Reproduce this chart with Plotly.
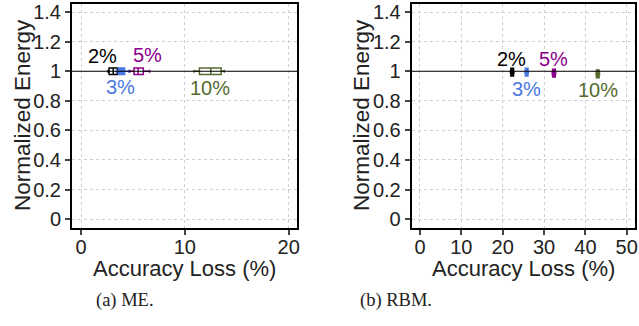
import plotly.graph_objects as go

# ---------------- data ----------------
levels = ["2%", "3%", "5%", "10%"]
colors = ["#000000", "#4a78e0", "#8b008b", "#556b2f"]
fills = ["#ffffff", "#4a78e0", "#ffffff", "#ffffff"]

# ME panel (accuracy loss box stats, %)
me_lower = [2.6, 3.4, 4.7, 10.9]
me_q1 = [2.7, 3.6, 5.1, 11.4]
me_median = [3.1, 3.9, 5.5, 12.5]
me_q3 = [3.5, 4.2, 6.0, 13.5]
me_upper = [3.7, 4.6, 6.6, 13.8]
me_energy = [1.0, 1.0, 1.0, 1.0]
me_label_x = [2.1, 3.8, 6.4, 12.4]
me_label_y = [1.10, 0.895, 1.11, 0.89]

# RBM panel
rbm_lower = [22.0, 25.5, 32.1, 42.7]
rbm_q1 = [22.1, 25.6, 32.2, 42.8]
rbm_median = [22.3, 25.8, 32.4, 43.0]
rbm_q3 = [22.5, 26.0, 32.6, 43.2]
rbm_upper = [22.6, 26.1, 32.7, 43.3]
rbm_energy = [0.994, 0.994, 0.987, 0.982]
rbm_label_x = [22.2, 25.8, 32.4, 43.1]
rbm_label_y = [1.08, 0.878, 1.08, 0.874]

y_ticks = [0, 0.2, 0.4, 0.6, 0.8, 1.0, 1.2, 1.4]
y_tick_text = ["0", "0.2", "0.4", "0.6", "0.8", "1", "1.2", "1.4"]
me_x_ticks = [0, 10, 20]
rbm_x_ticks = [0, 10, 20, 30, 40, 50]
baseline = 1.0

# ---------------- figure ----------------
W, H = 639, 326
fig = go.Figure()

FONT = "Liberation Sans, Arial, Helvetica, sans-serif"

def add_boxes(xa, ya, lower, q1, med, q3, upper, energy, lw, solid):
    for i, lev in enumerate(levels):
        fig.add_trace(go.Box(
            orientation="h",
            y=[energy[i]], lowerfence=[lower[i]], q1=[q1[i]], median=[med[i]],
            q3=[q3[i]], upperfence=[upper[i]],
            width=0.045, whiskerwidth=0.45,
            line=dict(color=colors[i], width=lw),
            fillcolor=colors[i] if solid else fills[i],
            xaxis=xa, yaxis=ya, showlegend=False, name=lev,
            hoverinfo="skip",
        ))

add_boxes("x", "y", me_lower, me_q1, me_median, me_q3, me_upper, me_energy, 1.5, False)
add_boxes("x2", "y2", rbm_lower, rbm_q1, rbm_median, rbm_q3, rbm_upper, rbm_energy, 2.5, True)

ydom = [1 - 228 / H, 1 - 4 / H]
axis_common = dict(
    showline=True, linecolor="black", linewidth=2, mirror=True,
    ticks="outside", ticklen=5, tickwidth=1.5, tickcolor="#444",
    showgrid=True, gridcolor="#cfcfcf", griddash="dot", gridwidth=1,
    zeroline=False, automargin=False,
    tickfont=dict(family=FONT, size=20, color="#222"),
)
fig.update_layout(
    width=W, height=H, margin=dict(l=0, r=0, t=0, b=0, pad=0),
    paper_bgcolor="white", plot_bgcolor="white",
    xaxis=dict(domain=[72 / W, 297 / W], range=[-0.87, 20.8],
               tickvals=me_x_ticks, anchor="y", ticklabelstandoff=-5, **axis_common),
    yaxis=dict(domain=ydom, range=[-0.06, 1.455], tickvals=y_ticks,
               ticktext=y_tick_text, anchor="x", **axis_common),
    xaxis2=dict(domain=[411.7 / W, 635 / W], range=[-2.0, 52.0],
                tickvals=rbm_x_ticks, anchor="y2", ticklabelstandoff=-5, **axis_common),
    yaxis2=dict(domain=ydom, range=[-0.06, 1.455], tickvals=y_ticks,
                ticktext=y_tick_text, anchor="x2", **axis_common),
)

# baseline at normalized energy 1
for xr, yr in [("x domain", "y"), ("x2 domain", "y2")]:
    fig.add_shape(type="line", xref=xr, yref=yr, x0=0, x1=1, y0=baseline, y1=baseline,
                  line=dict(color="black", width=1.2), layer="above")

# level labels
for xa, ya, lx, ly in [("x", "y", me_label_x, me_label_y), ("x2", "y2", rbm_label_x, rbm_label_y)]:
    for i, lev in enumerate(levels):
        fig.add_annotation(x=lx[i], y=ly[i], xref=xa, yref=ya, text=lev, showarrow=False,
                           xanchor="center", yanchor="middle",
                           font=dict(family=FONT, size=20, color=colors[i]))

# axis titles and captions
for cx, cap_x, cap in [(184, 125, "(a) ME."), (523, 396, "(b) RBM.")]:
    fig.add_annotation(x=cx / W, y=1 - 268 / H, xref="paper", yref="paper",
                       text="Accuracy Loss (%)", showarrow=False,
                       xanchor="center", yanchor="middle",
                       font=dict(family=FONT, size=22, color="#222"))
    fig.add_annotation(x=cap_x / W, y=1 - 300 / H, xref="paper", yref="paper",
                       text=cap, showarrow=False,
                       xanchor="center", yanchor="middle",
                       font=dict(family="Liberation Serif, serif", size=18.5, color="#222"))
for cx in [23, 362]:
    fig.add_annotation(x=cx / W, y=1 - 115 / H, xref="paper", yref="paper",
                       text="Normalized Energy", showarrow=False, textangle=-90,
                       xanchor="center", yanchor="middle",
                       font=dict(family=FONT, size=22.5, color="#222"))

fig.write_html("out.html")
